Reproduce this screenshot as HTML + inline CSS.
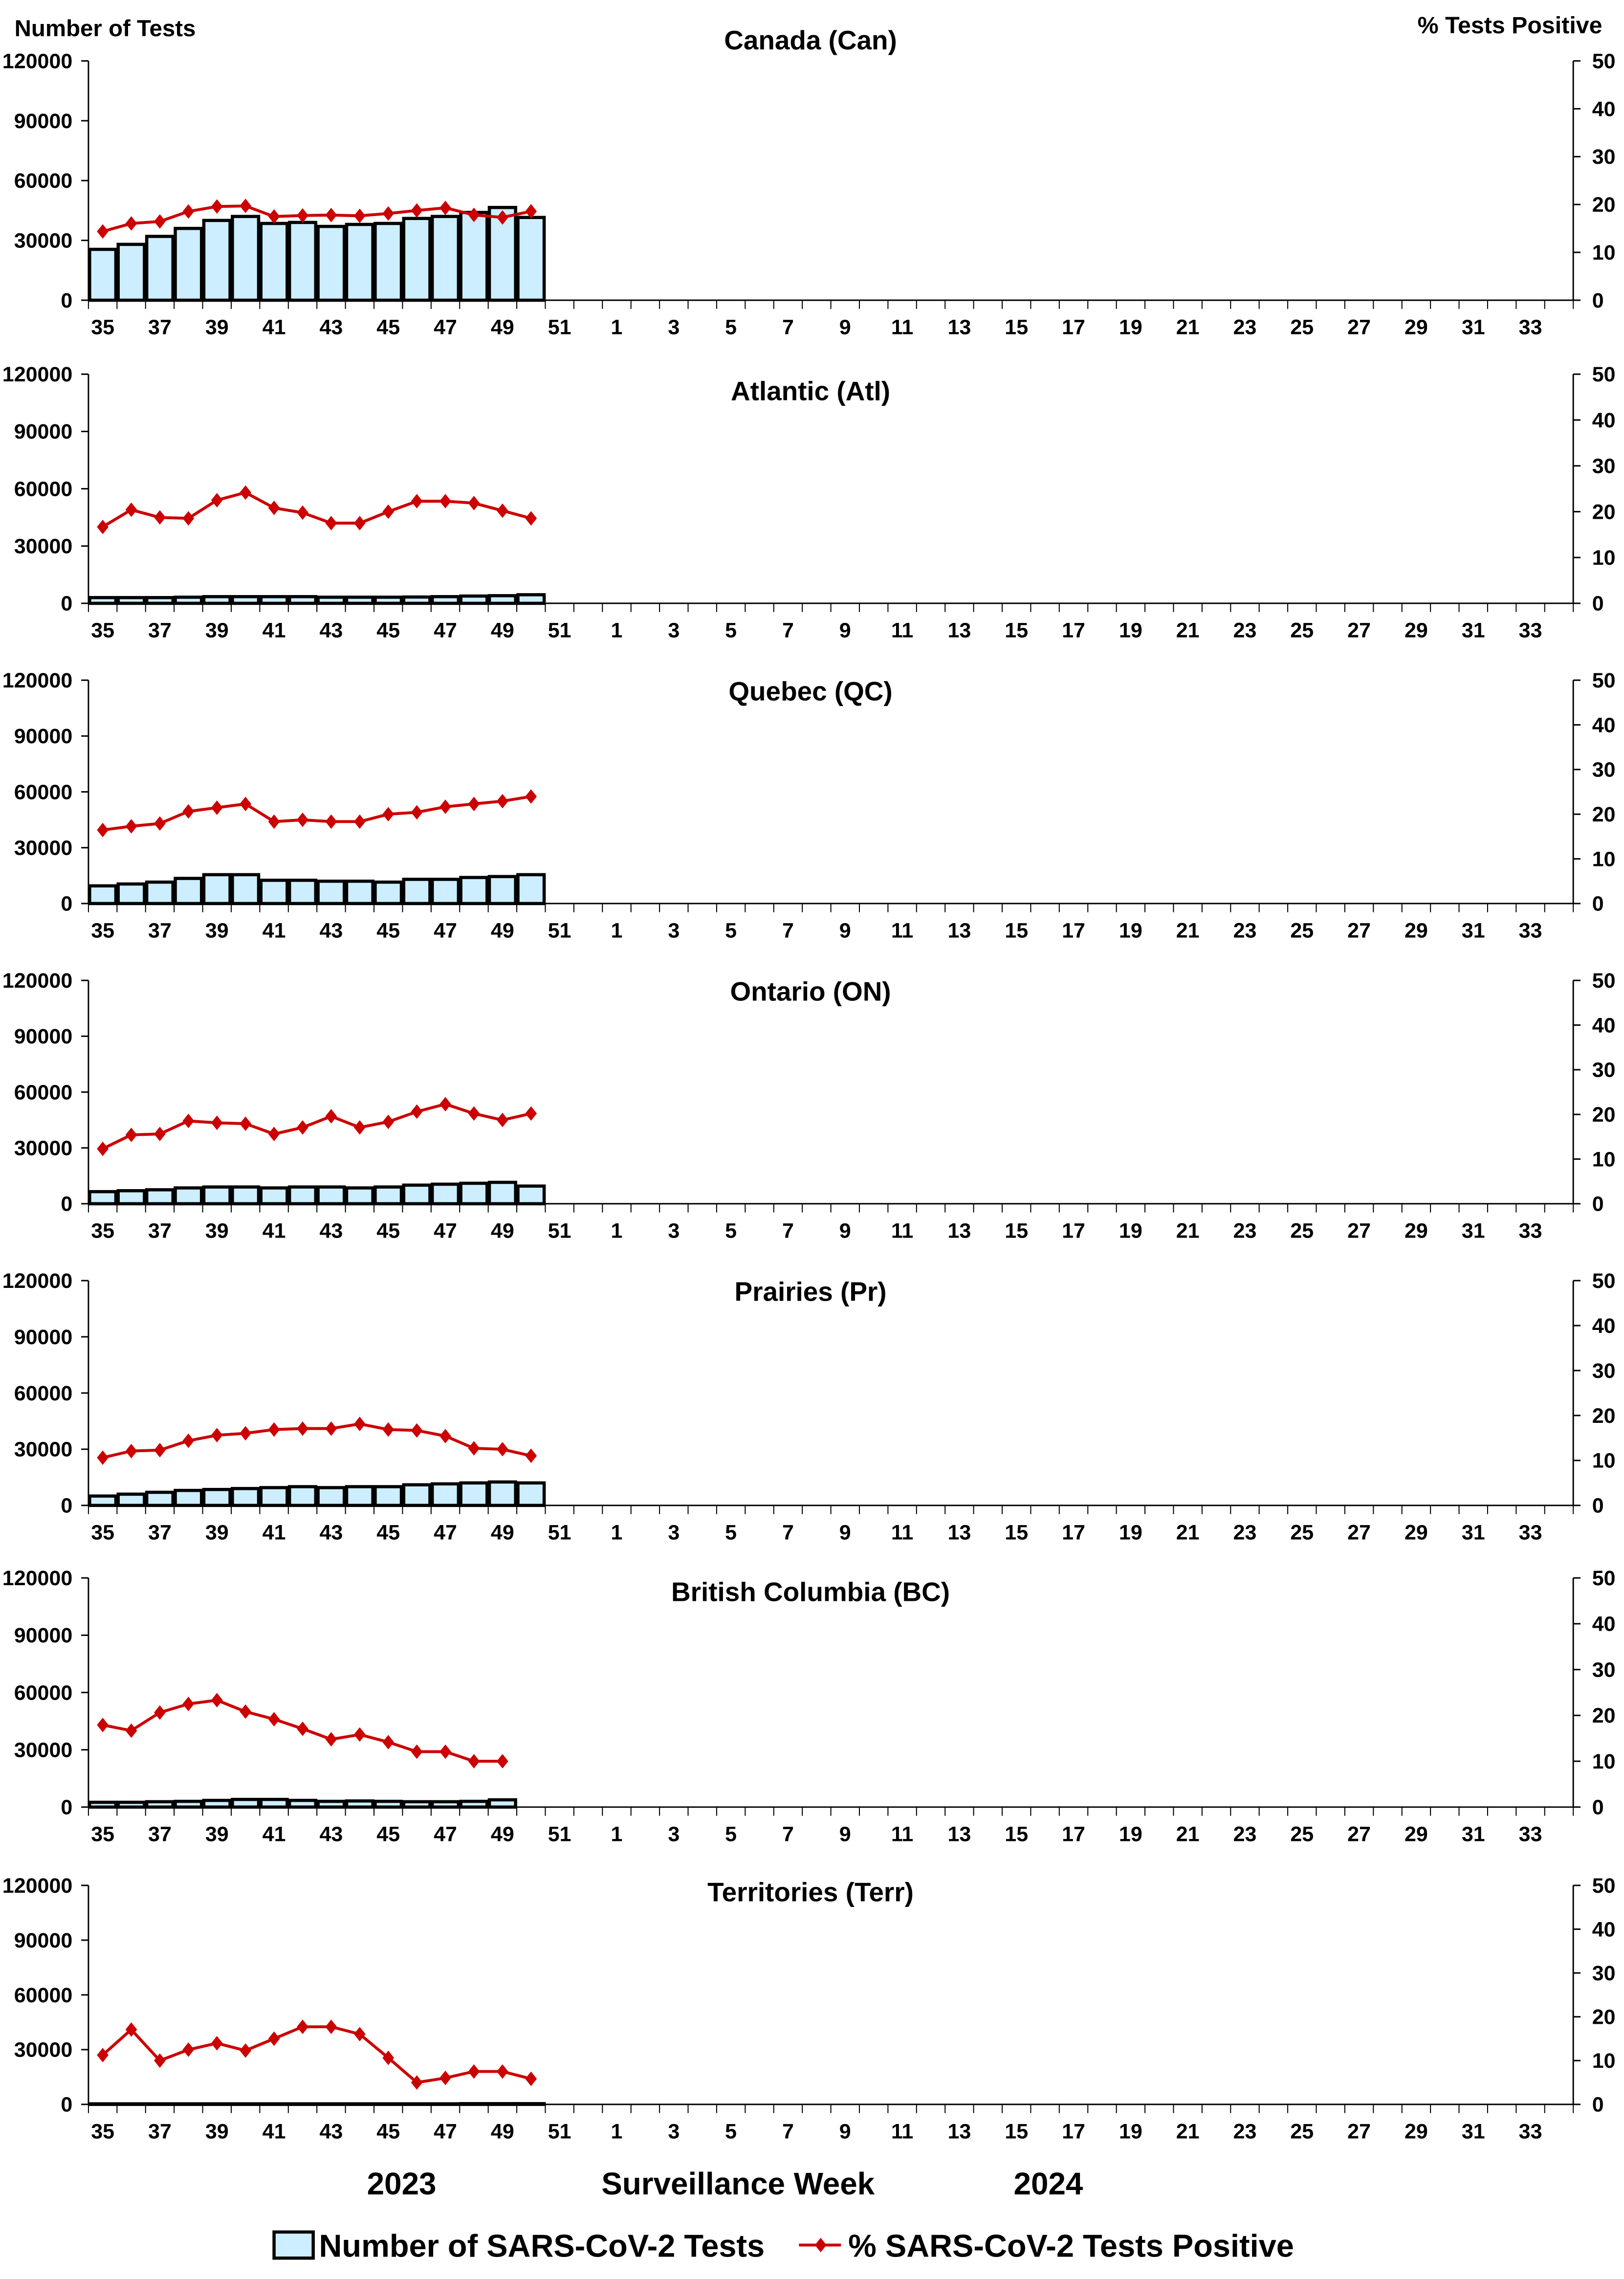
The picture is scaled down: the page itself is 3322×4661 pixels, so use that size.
<!DOCTYPE html>
<html><head><meta charset="utf-8">
<style>
html,body{margin:0;padding:0;background:#fff;}
svg{display:block;}
text{font-family:"Liberation Sans",Arial,sans-serif;font-weight:bold;fill:#000;}
</style></head>
<body>
<svg id="c" width="3322" height="4661" viewBox="0 0 1120 1571.4" preserveAspectRatio="none" xmlns="http://www.w3.org/2000/svg"></svg>
<script>
var svg=document.getElementById('c');
var L=61,R=1085,cw=(R-L)/52;
var weeks=[];for(var w=35;w<=52;w++)weeks.push(w);for(var w=1;w<=34;w++)weeks.push(w);
var panels=[
 {t:"Canada (Can)",top:42,zero:207,ty:28,
  b:[25.5,28,32,36,40,42,38.5,39,37,38,38.5,41,42,44,46.5,41.5],
  l:[34.5,38.5,39.5,44.5,47,47.3,42,42.5,42.7,42.3,43.5,45,46.3,42.8,41.5,44.6]},
 {t:"Atlantic (Atl)",top:258,zero:416,ty:270,
  b:[3,3,3,3.2,3.5,3.5,3.5,3.5,3.2,3.2,3.2,3.3,3.5,3.8,4,4.5],
  l:[40,49,45,44.5,54,58,50,47.5,42,42,48,53.5,53.5,52.5,48.5,44.5]},
 {t:"Quebec (QC)",top:469,zero:623,ty:477,
  b:[9.5,10.5,11.5,13.5,15.5,15.5,12.5,12.5,12,12,11.5,13,13,14,14.5,15.5],
  l:[39.5,41.5,43,49.5,51.5,53.5,44,45,44,44,48,49,52,53.5,55,57.5]},
 {t:"Ontario (ON)",top:676,zero:830,ty:684,
  b:[6.5,7,7.5,8.5,9,9,8.5,9,9,8.5,9,10,10.5,11,11.5,9.5],
  l:[29.5,37,37.5,44.5,43.5,43,37.5,41,47,41,44,49.5,53.5,48.5,45,48.5]},
 {t:"Prairies (Pr)",top:883,zero:1038,ty:891,
  b:[5,6,7,8,8.5,9,9.5,10,9.5,10,10,11,11.5,12,12.5,12],
  l:[25.5,29,29.5,34.5,37.5,38.5,40.5,41,41,43.5,40.5,40,37,30.5,30,26.5]},
 {t:"British Columbia (BC)",top:1088,zero:1246,ty:1098,
  b:[2.5,2.5,2.8,3,3.5,4,4,3.5,3,3.2,3,2.8,2.8,3,3.8],
  l:[43,40,49.5,54,56,50,46,41,35.5,38,34,29,29,24,24]},
 {t:"Territories (Terr)",top:1300,zero:1451,ty:1305,
  b:[0.3,0.3,0.3,0.3,0.3,0.3,0.3,0.3,0.3,0.3,0.3,0.3,0.3,0.4,0.4,0.4],
  l:[27,41,24,30,33.5,29.5,36,42.5,42.5,38.5,25.5,12,14.5,18,18,14]}
];
var s='';
function T(x,y,txt,sz,anc){s+='<text x="'+x+'" y="'+y+'" font-size="'+sz+'" text-anchor="'+(anc||'middle')+'">'+txt+'</text>';}
panels.forEach(function(p){
 var h=p.zero-p.top;function Y(v){return p.zero-v/120*h;}
 s+='<line x1="'+L+'" y1="'+p.top+'" x2="'+L+'" y2="'+p.zero+'" stroke="#000" stroke-width="1"/>';
 s+='<line x1="'+R+'" y1="'+p.top+'" x2="'+R+'" y2="'+p.zero+'" stroke="#000" stroke-width="1"/>';
 s+='<line x1="'+L+'" y1="'+p.zero+'" x2="'+R+'" y2="'+p.zero+'" stroke="#000" stroke-width="1"/>';
 for(var i=0;i<=4;i++){var y=p.zero-i*h/4;
  s+='<line x1="'+(L-5)+'" y1="'+y+'" x2="'+L+'" y2="'+y+'" stroke="#000"/>';
  T(L-11,y+5,String(i*30000),14.5,'end');}
 for(var i=0;i<=5;i++){var y=p.zero-i*h/5;
  s+='<line x1="'+R+'" y1="'+y+'" x2="'+(R+5)+'" y2="'+y+'" stroke="#000"/>';
  T(R+13,y+5,String(i*10),14.5,'start');}
 for(var i=0;i<=52;i++){var x=L+i*cw;s+='<line x1="'+x+'" y1="'+p.zero+'" x2="'+x+'" y2="'+(p.zero+6)+'" stroke="#000" stroke-width="0.7"/>';}
 for(var i=0;i<52;i+=2){T(L+cw*(i+0.5),p.zero+23.5,weeks[i],14.5);}
 T(559,p.ty+6,p.t,18.5);
 p.b.forEach(function(v,i){var x=L+i*cw+0.8,y=Y(v);
  s+='<rect x="'+x+'" y="'+y+'" width="'+(cw-1.6)+'" height="'+(p.zero-y)+'" fill="#cceeff" stroke="#000" stroke-width="2.2"/>';});
 var pts=p.l.map(function(v,i){return (L+cw*(i+0.5)).toFixed(1)+','+Y(v).toFixed(1);});
 s+='<polyline points="'+pts.join(' ')+'" fill="none" stroke="#cc0000" stroke-width="2"/>';
 p.l.forEach(function(v,i){var x=L+cw*(i+0.5),y=Y(v);
  s+='<polygon points="'+x+','+(y-5)+' '+(x+4)+','+y+' '+x+','+(y+5)+' '+(x-4)+','+y+'" fill="#cc0000"/>';});
});
T(10,25,"Number of Tests",16,'start');
T(1105,23,"% Tests Positive",16.3,'end');
T(277,1513,"2023",21.5);T(509,1513,"Surveillance Week",21.5);T(723,1513,"2024",21.5);
s+='<rect x="189" y="1539" width="27" height="18" fill="#cceeff" stroke="#000" stroke-width="2.2"/>';
T(220,1556,"Number of SARS-CoV-2 Tests",21.9,'start');
s+='<line x1="551" y1="1548" x2="580" y2="1548" stroke="#cc0000" stroke-width="2"/>';
s+='<polygon points="566,1543 570,1548 566,1553 562,1548" fill="#cc0000"/>';
T(585,1556,"% SARS-CoV-2 Tests Positive",21.9,'start');
svg.innerHTML=s;
</script>
</body></html>
